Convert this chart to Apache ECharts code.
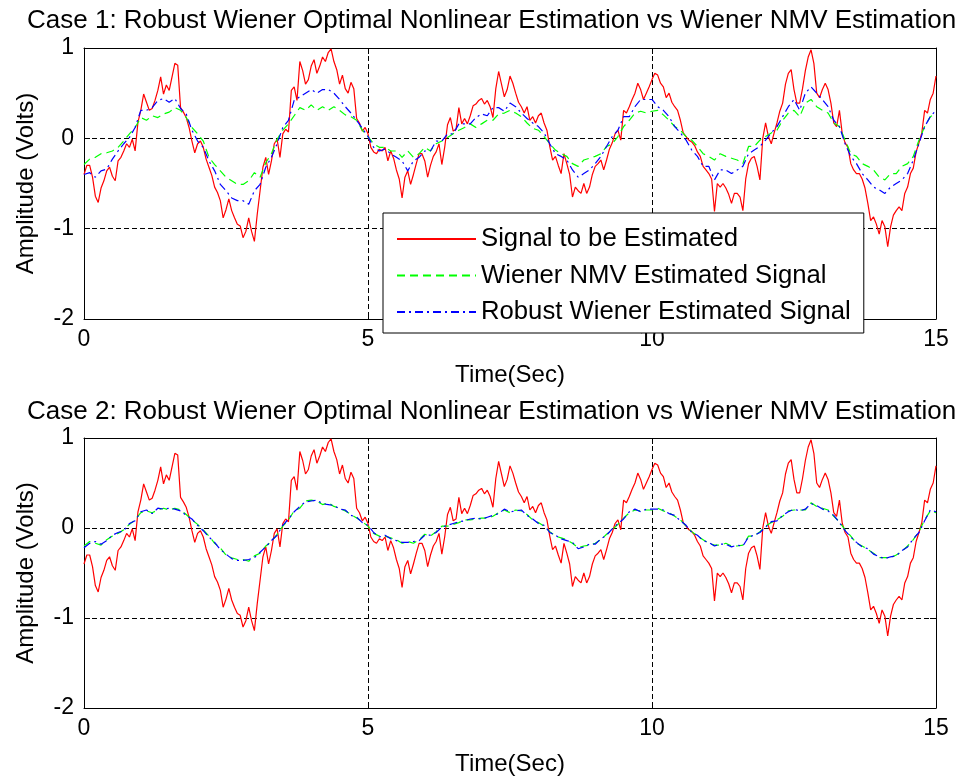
<!DOCTYPE html>
<html>
<head>
<meta charset="utf-8">
<script src="https://cdn.jsdelivr.net/npm/echarts@6/dist/echarts.min.js"></script>
<style>html,body{margin:0;padding:0;background:#fff}#c{width:972px;height:780px}</style>
</head>
<body>
<div id="c"></div>
<script>
// ---- data ----
const titles = [
  'Case 1: Robust Wiener Optimal Nonlinear Estimation vs Wiener NMV Estimation',
  'Case 2: Robust Wiener Optimal Nonlinear Estimation vs Wiener NMV Estimation'
];
const seriesNames = ['Signal to be Estimated', 'Wiener NMV Estimated Signal', 'Robust Wiener Estimated Signal'];
const xTicks = [0, 5, 10, 15];
const yTicks = [-2, -1, 0, 1];
const redStep = 0.05;   // seconds between samples of the red signal
const estStep = 0.1;    // seconds between samples of the estimates

const signal = [
-0.40,-0.30,-0.30,-0.43,-0.64,-0.71,-0.55,-0.47,-0.36,-0.32,-0.42,-0.47,-0.25,-0.21,-0.14,-0.06,-0.10,-0.01,-0.14,0.18,
0.31,0.49,0.40,0.31,0.33,0.42,0.53,0.68,0.49,0.59,0.53,0.68,0.83,0.81,0.34,0.29,0.23,0.12,-0.03,-0.16,
-0.06,-0.03,-0.10,-0.23,-0.32,-0.41,-0.54,-0.60,-0.69,-0.88,-0.79,-0.67,-0.80,-0.88,-0.95,-0.97,-1.10,-1.03,-0.88,-1.03,
-1.14,-0.84,-0.58,-0.32,-0.21,-0.40,-0.25,-0.06,-0.01,-0.21,0.05,0.10,0.07,0.53,0.57,0.42,0.85,0.75,0.60,0.65,
0.80,0.87,0.72,0.80,0.90,0.85,0.95,0.99,0.85,0.76,0.60,0.70,0.55,0.50,0.62,0.55,0.22,0.17,0.08,0.12,
0.05,-0.10,-0.15,-0.17,-0.12,-0.14,-0.10,-0.25,-0.14,-0.22,-0.35,-0.45,-0.66,-0.43,-0.36,-0.51,-0.40,-0.28,-0.17,-0.17,
-0.25,-0.43,-0.30,-0.20,-0.15,-0.06,-0.29,-0.10,0.15,0.23,0.08,0.10,0.34,0.16,0.22,0.16,0.25,0.36,0.38,0.42,
0.44,0.38,0.42,0.35,0.23,0.55,0.74,0.60,0.46,0.54,0.69,0.61,0.50,0.40,0.35,0.28,0.35,0.20,0.24,0.17,
0.25,0.28,0.17,0.09,-0.09,-0.24,-0.20,-0.30,-0.39,-0.17,-0.28,-0.40,-0.65,-0.54,-0.58,-0.61,-0.50,-0.61,-0.54,-0.40,
-0.31,-0.28,-0.24,-0.35,-0.24,-0.12,-0.05,0.05,0.09,-0.02,0.31,0.28,0.35,0.43,0.50,0.61,0.54,0.43,0.50,0.57,
0.65,0.72,0.70,0.61,0.57,0.45,0.50,0.40,0.35,0.31,0.20,0.06,0.02,-0.02,-0.04,-0.08,-0.15,-0.20,-0.31,-0.35,
-0.39,-0.45,-0.81,-0.50,-0.54,-0.50,-0.55,-0.62,-0.72,-0.61,-0.61,-0.65,-0.80,-0.45,-0.28,-0.22,-0.20,-0.31,-0.46,0.00,
0.17,0.02,-0.06,0.06,0.17,0.30,0.39,0.60,0.72,0.76,0.54,0.39,0.39,0.55,0.75,0.90,0.98,0.83,0.50,0.45,
0.54,0.61,0.54,0.39,0.17,0.13,0.31,0.05,-0.05,-0.10,-0.28,-0.35,-0.39,-0.39,-0.45,-0.55,-0.72,-0.91,-0.87,-0.95,
-1.06,-0.91,-0.98,-1.20,-0.98,-0.85,-0.80,-0.76,-0.80,-0.61,-0.54,-0.39,-0.33,-0.15,-0.05,0.06,0.31,0.28,0.43,0.50,
0.69
];

const nmvCase1 = [
-0.29,-0.23,-0.21,-0.17,-0.16,-0.14,-0.10,-0.03,0.05,0.12,
0.23,0.20,0.25,0.23,0.27,0.29,0.34,0.31,0.23,0.12,
0.05,-0.03,-0.21,-0.29,-0.36,-0.43,-0.47,-0.51,-0.51,-0.47,
-0.38,-0.43,-0.27,-0.17,-0.01,0.09,0.16,0.25,0.34,0.31,
0.37,0.31,0.35,0.31,0.35,0.31,0.26,0.24,0.20,0.09,
0.02,-0.06,-0.10,-0.10,-0.14,-0.14,-0.21,-0.14,-0.21,-0.17,
-0.10,-0.14,-0.06,-0.03,0.01,0.05,0.09,0.12,0.16,0.12,
0.16,0.20,0.20,0.27,0.28,0.31,0.28,0.24,0.17,0.11,
0.09,0.02,-0.06,-0.13,-0.17,-0.20,-0.28,-0.31,-0.24,-0.22,
-0.20,-0.17,-0.09,-0.06,0.02,0.13,0.20,0.28,0.30,0.28,
0.30,0.31,0.26,0.20,0.13,0.09,0.02,-0.02,-0.09,-0.17,
-0.20,-0.24,-0.17,-0.20,-0.22,-0.24,-0.28,-0.09,-0.09,-0.02,
0.02,0.06,0.09,0.20,0.28,0.31,0.24,0.39,0.43,0.35,
0.31,0.28,0.17,0.13,-0.02,-0.17,-0.20,-0.28,-0.31,-0.35,
-0.43,-0.46,-0.39,-0.39,-0.31,-0.28,-0.20,-0.02,0.13,0.24,
0.28
];

const robustCase1 = [
-0.40,-0.38,-0.43,-0.36,-0.34,-0.23,-0.14,-0.06,0.01,0.12,
0.31,0.31,0.34,0.42,0.44,0.40,0.44,0.33,0.27,0.09,
-0.03,-0.10,-0.25,-0.36,-0.51,-0.58,-0.66,-0.69,-0.69,-0.73,
-0.58,-0.51,-0.32,-0.21,-0.06,0.12,0.20,0.42,0.46,0.50,
0.54,0.50,0.54,0.54,0.50,0.43,0.35,0.28,0.20,0.11,
0.02,-0.10,-0.14,-0.12,-0.17,-0.21,-0.25,-0.36,-0.25,-0.21,
-0.14,-0.14,-0.03,-0.03,0.05,0.05,0.16,0.16,0.16,0.23,
0.27,0.25,0.34,0.34,0.30,0.39,0.35,0.28,0.22,0.17,
0.13,0.06,-0.06,-0.17,-0.20,-0.24,-0.35,-0.43,-0.39,-0.35,
-0.28,-0.20,-0.09,0.02,0.09,0.24,0.24,0.35,0.43,0.43,
0.43,0.35,0.31,0.24,0.13,0.06,-0.02,-0.13,-0.20,-0.31,
-0.31,-0.46,-0.35,-0.35,-0.39,-0.35,-0.31,-0.17,-0.13,-0.09,
-0.02,0.06,0.13,0.24,0.35,0.43,0.31,0.50,0.57,0.50,
0.43,0.35,0.20,0.13,-0.06,-0.20,-0.28,-0.39,-0.46,-0.54,
-0.57,-0.61,-0.54,-0.50,-0.46,-0.39,-0.24,-0.06,0.13,0.24,
0.31
];

const nmvCase2 = [
-0.20,-0.15,-0.17,-0.19,-0.13,-0.09,-0.06,-0.02,0.04,0.09,
0.17,0.19,0.17,0.20,0.22,0.20,0.22,0.20,0.15,0.09,
0.04,-0.02,-0.09,-0.17,-0.22,-0.30,-0.33,-0.35,-0.35,-0.37,
-0.31,-0.28,-0.20,-0.15,-0.07,0.02,0.09,0.19,0.22,0.30,
0.31,0.30,0.26,0.28,0.24,0.22,0.19,0.15,0.11,0.07,
0.02,-0.06,-0.09,-0.09,-0.11,-0.13,-0.17,-0.15,-0.17,-0.13,
-0.07,-0.09,-0.04,0.02,0.02,0.04,0.06,0.09,0.09,0.10,
0.11,0.11,0.13,0.17,0.20,0.17,0.20,0.19,0.15,0.09,
0.06,0.02,-0.04,-0.09,-0.11,-0.13,-0.17,-0.22,-0.20,-0.19,
-0.17,-0.13,-0.07,-0.02,0.04,0.11,0.17,0.20,0.19,0.20,
0.20,0.22,0.19,0.17,0.13,0.09,0.02,-0.04,-0.09,-0.13,
-0.17,-0.19,-0.19,-0.17,-0.20,-0.20,-0.19,-0.09,-0.09,-0.04,
0.02,0.06,0.09,0.13,0.19,0.20,0.20,0.20,0.28,0.24,
0.22,0.20,0.13,0.07,-0.02,-0.09,-0.17,-0.20,-0.24,-0.28,
-0.33,-0.33,-0.33,-0.30,-0.26,-0.20,-0.13,-0.04,0.09,0.19,
0.17
];

const robustCase2 = [
-0.22,-0.17,-0.15,-0.18,-0.14,-0.08,-0.05,-0.03,0.05,0.08,
0.18,0.20,0.16,0.22,0.21,0.22,0.21,0.19,0.14,0.10,
0.03,-0.03,-0.10,-0.16,-0.24,-0.29,-0.34,-0.36,-0.36,-0.35,
-0.33,-0.27,-0.21,-0.14,-0.08,0.03,0.10,0.18,0.24,0.29,
0.30,0.31,0.27,0.26,0.25,0.21,0.20,0.14,0.12,0.06,
0.03,-0.05,-0.10,-0.08,-0.12,-0.14,-0.16,-0.16,-0.15,-0.14,
-0.08,-0.08,-0.05,0.01,0.03,0.05,0.07,0.08,0.10,0.11,
0.10,0.12,0.14,0.16,0.21,0.18,0.19,0.20,0.14,0.10,
0.05,0.03,-0.05,-0.08,-0.12,-0.14,-0.16,-0.23,-0.21,-0.18,
-0.18,-0.12,-0.08,-0.01,0.05,0.10,0.18,0.21,0.18,0.21,
0.21,0.21,0.20,0.16,0.14,0.08,0.03,-0.05,-0.08,-0.14,
-0.16,-0.20,-0.18,-0.18,-0.21,-0.19,-0.20,-0.10,-0.08,-0.05,
0.01,0.07,0.08,0.14,0.18,0.21,0.19,0.21,0.27,0.25,
0.21,0.19,0.14,0.06,-0.03,-0.10,-0.16,-0.21,-0.23,-0.29,
-0.32,-0.34,-0.32,-0.31,-0.25,-0.21,-0.12,-0.05,0.08,0.20,
0.18
];

// ---- chart ----
const FONT = '"Liberation Sans", Arial, sans-serif';
const pairs = (arr, step) => arr.map((v, i) => [+(i * step).toFixed(3), v]);
const grids = [
  { left: 84, top: 48, width: 852, height: 271 },
  { left: 84, top: 438, width: 852, height: 270 }
];
const axLine = { show: true, onZero: false, lineStyle: { color: '#000', width: 1 } };
const tick = { show: true, inside: true, length: 6, lineStyle: { color: '#000' } };
const dashed = { show: true, lineStyle: { color: '#000', type: [5, 3], width: 1 } };
const xAxes = [], yAxes = [];
grids.forEach((g, gi) => {
  xAxes.push({ type: 'value', gridIndex: gi, position: 'bottom', min: xTicks[0], max: xTicks[xTicks.length - 1], interval: 5,
    axisLine: axLine, axisTick: tick, splitLine: dashed,
    axisLabel: { color: '#000', fontSize: 23, fontFamily: FONT, margin: 9 },
    name: 'Time(Sec)', nameLocation: 'middle', nameGap: 44,
    nameTextStyle: { color: '#000', fontSize: 24, fontFamily: FONT } });
  xAxes.push({ type: 'value', gridIndex: gi, position: 'top', min: xTicks[0], max: xTicks[xTicks.length - 1], interval: 5,
    axisLine: axLine, axisTick: tick, splitLine: { show: false }, axisLabel: { show: false } });
  yAxes.push({ type: 'value', gridIndex: gi, position: 'left', min: yTicks[0], max: yTicks[yTicks.length - 1], interval: 1,
    axisLine: axLine, axisTick: tick, splitLine: dashed,
    axisLabel: { color: '#000', fontSize: 23, fontFamily: FONT, margin: 10 },
    name: 'Amplitude (Volts)', nameLocation: 'middle', nameGap: 46,
    nameTextStyle: { color: '#000', fontSize: 24, fontFamily: FONT } });
  yAxes.push({ type: 'value', gridIndex: gi, position: 'right', min: yTicks[0], max: yTicks[yTicks.length - 1], interval: 1,
    axisLine: axLine, axisTick: tick, splitLine: { show: false }, axisLabel: { show: false } });
});

function mk(name, data, step, gi, color, type) {
  return { name, type: 'line', xAxisIndex: gi * 2, yAxisIndex: gi * 2, data: pairs(data, step),
    symbol: 'none', showSymbol: false, animation: false, silent: true,
    lineStyle: { color, width: 1.2, type }, itemStyle: { color } };
}

const option = {
  backgroundColor: '#fff',
  animation: false,
  title: titles.map((t, i) => ({ text: t, left: 22, top: i === 0 ? 3 : 394,
    textStyle: { color: '#000', fontSize: 26, fontWeight: 'normal', fontFamily: FONT } })),
  legend: {
    data: seriesNames, left: 383, top: 213, orient: 'vertical',
    itemWidth: 79, itemHeight: 12, itemGap: 10.5,
    padding: [13, 13, 8, 13], borderColor: '#000', borderWidth: 1, backgroundColor: '#fff',
    selectedMode: false,
    itemStyle: { opacity: 0 },
    textStyle: { color: '#000', fontSize: 25.7, fontFamily: FONT, lineHeight: 25 }
  },
  grid: grids,
  xAxis: xAxes,
  yAxis: yAxes,
  series: [
    mk(seriesNames[0], signal, redStep, 0, '#ff0000', 'solid'),
    mk(seriesNames[1], nmvCase1, estStep, 0, '#00ff00', [8, 5]),
    mk(seriesNames[2], robustCase1, estStep, 0, '#0000ff', [8, 4, 2, 4]),
    mk(seriesNames[0], signal, redStep, 1, '#ff0000', 'solid'),
    mk(seriesNames[1], nmvCase2, estStep, 1, '#00ff00', [8, 5]),
    mk(seriesNames[2], robustCase2, estStep, 1, '#0000ff', [8, 4, 2, 4])
  ]
};
echarts.init(document.getElementById('c'), null, { renderer: 'canvas' }).setOption(option);
</script>
</body>
</html>
